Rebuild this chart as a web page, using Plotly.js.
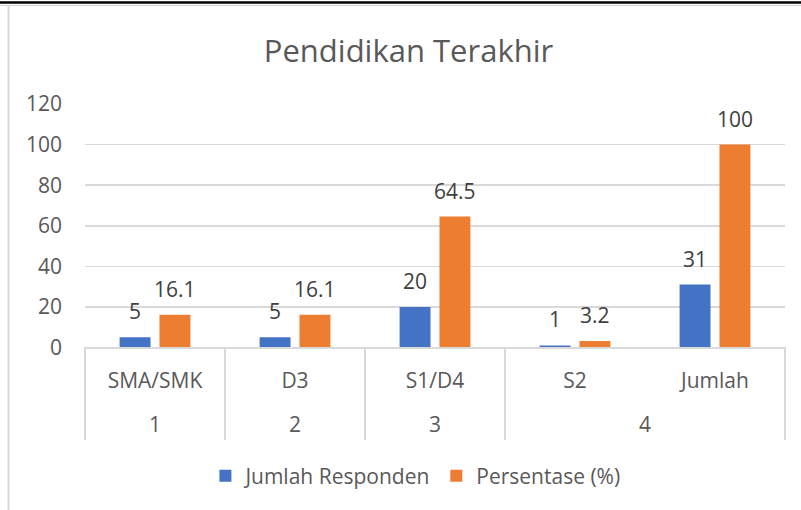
<!DOCTYPE html>
<html>
<head>
<meta charset="utf-8">
<script src="https://cdn.plot.ly/plotly-3.0.1.min.js"></script>
<style>
html,body{margin:0;padding:0;background:#fff;}
#chart{width:801px;height:510px;}
</style>
</head>
<body>
<div id="chart"></div>
<script>
var groups = ["1", "2", "3", "4", "4"];
var categories = ["SMA/SMK", "D3", "S1/D4", "S2", "Jumlah"];
var jumlahResponden = [5, 5, 20, 1, 31];
var persentase = [16.1, 16.1, 64.5, 3.2, 100];
var seriesNames = ["Jumlah Responden", "Persentase (%)"];
var yTicks = [0, 20, 40, 60, 80, 100, 120];

var FONT = "Open Sans, sans-serif";
var labelFont = {family: FONT, size: 21, color: "#404040"};

// group label positions (center of each group) and group boundaries, from the groups array
var groupNames = [], groupCenters = [], boundaries = [-0.5];
groups.forEach(function (g, i) {
  var k = groupNames.indexOf(g);
  if (k < 0) { groupNames.push(g); groupCenters.push([i]); if (i > 0) boundaries.push(i - 0.5); }
  else groupCenters[k].push(i);
});
boundaries.push(groups.length - 0.5);
var groupPos = groupCenters.map(function (a) { return a.reduce(function (s, v) { return s + v; }, 0) / a.length; });

var traces = [
  {
    type: "bar",
    name: seriesNames[0],
    x: categories,
    y: jumlahResponden,
    marker: {color: "#4472C4"}
  },
  {
    type: "bar",
    name: seriesNames[1],
    x: categories,
    y: persentase,
    marker: {color: "#ED7D31"}
  },
  {
    type: "scatter",
    xaxis: "x2",
    yaxis: "y",
    x: groupPos,
    y: groupPos.map(function () { return 0; }),
    mode: "markers",
    marker: {opacity: 0, size: 1},
    showlegend: false,
    hoverinfo: "skip"
  }
];

var annotations = [];
[jumlahResponden, persentase].forEach(function (vals, s) {
  vals.forEach(function (v, i) {
    annotations.push({
      x: categories[i], y: v, xref: "x", yref: "y",
      text: String(v), showarrow: false,
      xanchor: "center", yanchor: "bottom",
      xshift: s === 0 ? -20 : 20, yshift: 10,
      font: labelFont
    });
  });
});

var layout = {
  width: 801,
  height: 510,
  margin: {l: 85, r: 16, t: 104, b: 40},
  paper_bgcolor: "#ffffff",
  plot_bgcolor: "#ffffff",
  font: {family: FONT, color: "#595959", size: 21},
  title: {
    text: "Pendidikan Terakhir",
    font: {family: FONT, size: 31, color: "#595959"},
    x: 0.51, xanchor: "center",
    y: 0.90, yanchor: "middle", yref: "container"
  },
  barmode: "group",
  bargap: 0.43,
  bargroupgap: 0.225,
  showlegend: true,
  legend: {
    orientation: "h",
    x: 0.472, xanchor: "center",
    y: -0.0164, yanchor: "middle",
    itemwidth: 30,
    font: {family: FONT, size: 21, color: "#595959"},
    traceorder: "normal"
  },
  annotations: annotations,
  xaxis: {
    type: "category",
    categoryorder: "array",
    categoryarray: categories,
    range: [-0.5, categories.length - 0.5],
    showline: true,
    linecolor: "#D9D9D9",
    linewidth: 1.5,
    ticklabelstandoff: 14,
    tickfont: {family: FONT, size: 21, color: "#595959"},
    showgrid: false,
    ticks: ""
  },
  xaxis2: {
    type: "linear",
    overlaying: "x",
    anchor: "free",
    position: 0.082,
    side: "top",
    range: [-0.5, categories.length - 0.5],
    tickmode: "array",
    tickvals: groupPos,
    ticktext: groupNames,
    ticks: "",
    ticklabelstandoff: 4,
    showline: false,
    showgrid: false,
    zeroline: false,
    tickfont: {family: FONT, size: 21, color: "#595959"},
    minor: {
      tickmode: "array",
      tickvals: boundaries,
      ticks: "outside",
      ticklen: 92.5,
      tickwidth: 1.5,
      tickcolor: "#D9D9D9",
      showgrid: false
    }
  },
  yaxis: {
    domain: [0.3347, 1],
    range: [0, 120],
    tickvals: yTicks,
    ticktext: yTicks.map(String),
    showgrid: true,
    gridcolor: "#D9D9D9",
    gridwidth: 1.5,
    zeroline: false,
    showline: false,
    ticks: "",
    ticklabelstandoff: 22,
    tickfont: {family: FONT, size: 21, color: "#595959"}
  },
  shapes: [
    {type: "line", xref: "paper", yref: "paper", x0: -0.13, x1: 1.03, y0: 1.2773, y1: 1.2773, line: {color: "#000000", width: 2.5}},
    {type: "line", xref: "paper", yref: "paper", x0: -0.13, x1: 1.03, y0: 1.2691, y1: 1.2691, line: {color: "#CFCFCF", width: 1}},
    {type: "line", xref: "paper", yref: "paper", x0: -0.1093, x1: -0.1093, y0: 1.2691, y1: -0.13, line: {color: "#D9D9D9", width: 2}}
  ]
};

Plotly.newPlot("chart", traces, layout, {displayModeBar: false, staticPlot: true});
</script>
</body>
</html>
